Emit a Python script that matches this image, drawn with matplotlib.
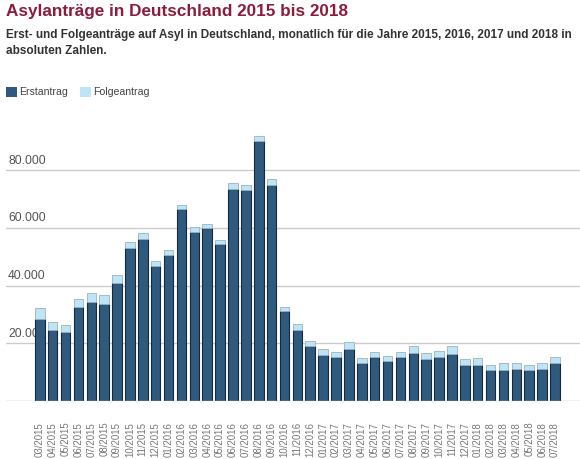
import numpy as np
import matplotlib.pyplot as plt
from matplotlib.patches import Rectangle

plt.rcParams['font.family'] = ['Liberation Sans', 'DejaVu Sans']

months = ["03/2015", "04/2015", "05/2015", "06/2015", "07/2015", "08/2015", "09/2015",
          "10/2015", "11/2015", "12/2015", "01/2016", "02/2016", "03/2016", "04/2016",
          "05/2016", "06/2016", "07/2016", "08/2016", "09/2016", "10/2016", "11/2016",
          "12/2016", "01/2017", "02/2017", "03/2017", "04/2017", "05/2017", "06/2017",
          "07/2017", "08/2017", "09/2017", "10/2017", "11/2017", "12/2017", "01/2018",
          "02/2018", "03/2018", "04/2018", "05/2018", "06/2018", "07/2018"]

erstantrag = [28500, 24500, 23800, 32600, 34200, 33700, 40700, 53000, 56100, 46700,
              50400, 66400, 58400, 59800, 54300, 73400, 73200, 89900, 74900, 31000,
              24500, 18900, 16100, 15100, 18000, 13300, 15100, 13700, 15100, 16600,
              14500, 15100, 16300, 12300, 12500, 10800, 10800, 11200, 10800, 11200,
              13100]

folgeantrag = [3700, 2900, 2500, 2800, 3200, 3000, 2800, 2100, 2200, 1900,
               2000, 1600, 2000, 1600, 1400, 2100, 1600, 1900, 2100, 1700,
               2200, 1900, 2000, 1900, 2300, 1600, 1900, 1900, 1900, 2500,
               2100, 2300, 2800, 2100, 2400, 1700, 2200, 2000, 1600, 2000,
               2100]

y_ticks = [20000, 40000, 60000, 80000]
y_tick_labels = ["20.000", "40.000", "60.000", "80.000"]

DARK = "#2f5a7e"
DARK_EDGE = "#162a3a"
LIGHT = "#bfe4f6"
LIGHT_EDGE = "#9ab4c2"

W, H = 580, 459
fig = plt.figure(figsize=(W / 100, H / 100), dpi=100)
fig.patch.set_facecolor("white")


def px(x, y):
    return x / W, 1 - y / H


ax = fig.add_axes([6 / W, (H - 401) / H, 574 / W, (401 - 129.6) / H])

x = np.arange(len(months))
ax.bar(x, erstantrag, width=0.74, color=DARK, edgecolor=DARK_EDGE, linewidth=0.8, zorder=3)
ax.bar(x, folgeantrag, width=0.74, bottom=erstantrag, color=LIGHT,
       edgecolor=LIGHT_EDGE, linewidth=0.6, zorder=3)

ax.set_xlim(-2.62, 41.94)
ax.set_ylim(0, 94000)

for val in y_ticks:
    ax.axhline(val, color="#cccccc", linewidth=1, zorder=1)
ax.axhline(0, color="#bbbbbb", linewidth=1, zorder=4)

for val, lab in zip(y_ticks, y_tick_labels):
    ax.annotate(lab, xy=(0.0035, val), xycoords=ax.get_yaxis_transform(),
                xytext=(0, 2.5), textcoords="offset points",
                ha="left", va="bottom", fontsize=8.8, color="#555555", zorder=2)

ax.set_yticks([])
ax.set_xticks(x)
ax.set_xticklabels(months, rotation=90, fontsize=6.9, color="#777777")
ax.tick_params(axis="x", length=0, pad=15)
for s in ax.spines.values():
    s.set_visible(False)

fig.text(*px(6, 4), "Asylanträge in Deutschland 2015 bis 2018", ha="left", va="top",
         fontsize=12.3, fontweight="bold", color="#8c1c3c")
fig.text(*px(6, 29), "Erst- und Folgeanträge auf Asyl in Deutschland, monatlich für die Jahre "
         "2015, 2016, 2017 und 2018 in", ha="left", va="top",
         fontsize=8.45, fontweight="bold", color="#333333")
fig.text(*px(6, 45), "absoluten Zahlen.", ha="left", va="top",
         fontsize=8.45, fontweight="bold", color="#333333")

# legend
fig.patches.append(Rectangle(px(6, 97), 11 / W, 10 / H, transform=fig.transFigure,
                             facecolor=DARK, edgecolor="none"))
fig.text(*px(19, 92), "Erstantrag", ha="left", va="center", fontsize=7.6, color="#444444")
fig.patches.append(Rectangle(px(80, 97), 11 / W, 10 / H, transform=fig.transFigure,
                             facecolor=LIGHT, edgecolor="none"))
fig.text(*px(93, 92), "Folgeantrag", ha="left", va="center", fontsize=7.6, color="#444444")

fig.savefig("out.png", dpi=100, facecolor="white")
